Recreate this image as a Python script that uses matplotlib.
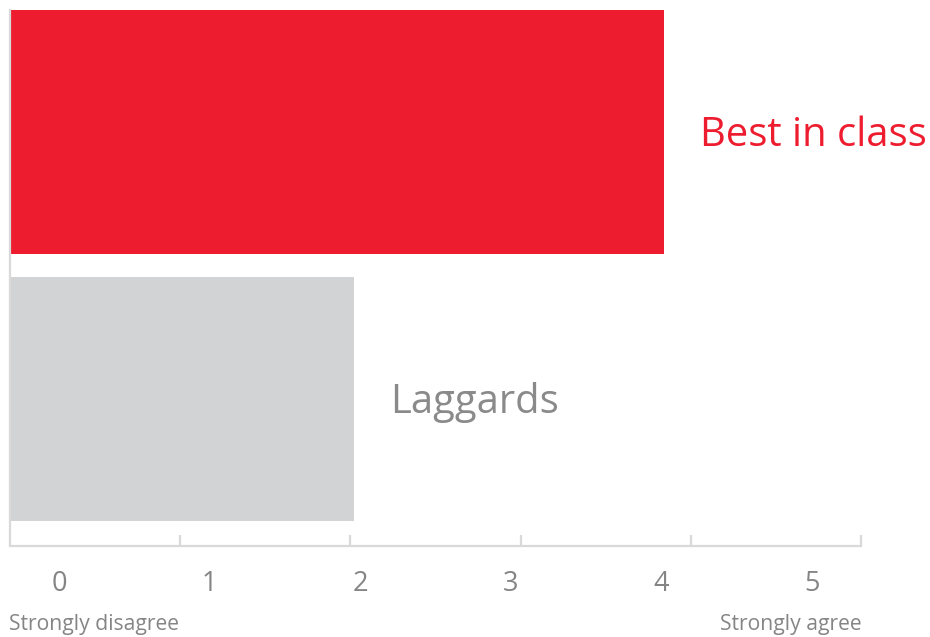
import numpy as np
import matplotlib.pyplot as plt
from matplotlib import transforms

# survey scores per group (0 = strongly disagree, 5 = strongly agree)
groups = ['Laggards', 'Best in class']
scores = [2.02, 3.84]
scale_ticks = [0, 1, 2, 3, 4, 5]
scale_ends = ['Strongly disagree', 'Strongly agree']

bar_colors = ['#d1d3d4', '#ed1c2e']
name_colors = ['#8a8a8a', '#ed1c2e']
axis_grey = '#d9d9d9'
text_grey = '#858585'

plt.rcParams['font.family'] = ['Open Sans', 'DejaVu Sans']

W, H = 930, 637
fig = plt.figure(figsize=(W/100, H/100), dpi=100)
ax = fig.add_axes([10/W, 91/H, 851/W, 536/H])

y = np.arange(len(groups))
ax.barh(y, scores, height=0.914, color=bar_colors, zorder=1)

ax.set_xlim(0, 5)
ax.set_ylim(-0.551, 1.457)

for s in ['top', 'right']:
    ax.spines[s].set_visible(False)
for s in ['left', 'bottom']:
    ax.spines[s].set_color(axis_grey)
    ax.spines[s].set_linewidth(1.6)
    ax.spines[s].set_zorder(3)

ax.set_yticks([])
ax.set_xticks(scale_ticks[1:])
ax.tick_params(axis='x', direction='in', length=8, width=1.6,
               color=axis_grey, labelbottom=False)

# group names next to the bar ends, caps centred on the bar
lift = transforms.offset_copy(ax.transData, fig=fig, y=-10.4, units='points')
for yi, val, name, c in zip(y, scores, groups, name_colors):
    ax.text(val + 0.215, yi, name, color=c, fontsize=28.8,
            ha='left', va='baseline', transform=lift)

# scale numbers sit on their own spacing under the axis
under = transforms.blended_transform_factory(ax.transData, ax.transAxes)
for i, t in enumerate(scale_ticks):
    ax.text(0.288 + 0.885*i, -0.084, str(t), color=text_grey, fontsize=19.5,
            ha='center', va='baseline', transform=under)

ax.text(-0.005, -0.157, scale_ends[0], color=text_grey, fontsize=15.2,
        ha='left', va='baseline', transform=under)
ax.text(5.005, -0.157, scale_ends[1], color=text_grey, fontsize=15.2,
        ha='right', va='baseline', transform=under)

fig.savefig('out.png', dpi=100)
